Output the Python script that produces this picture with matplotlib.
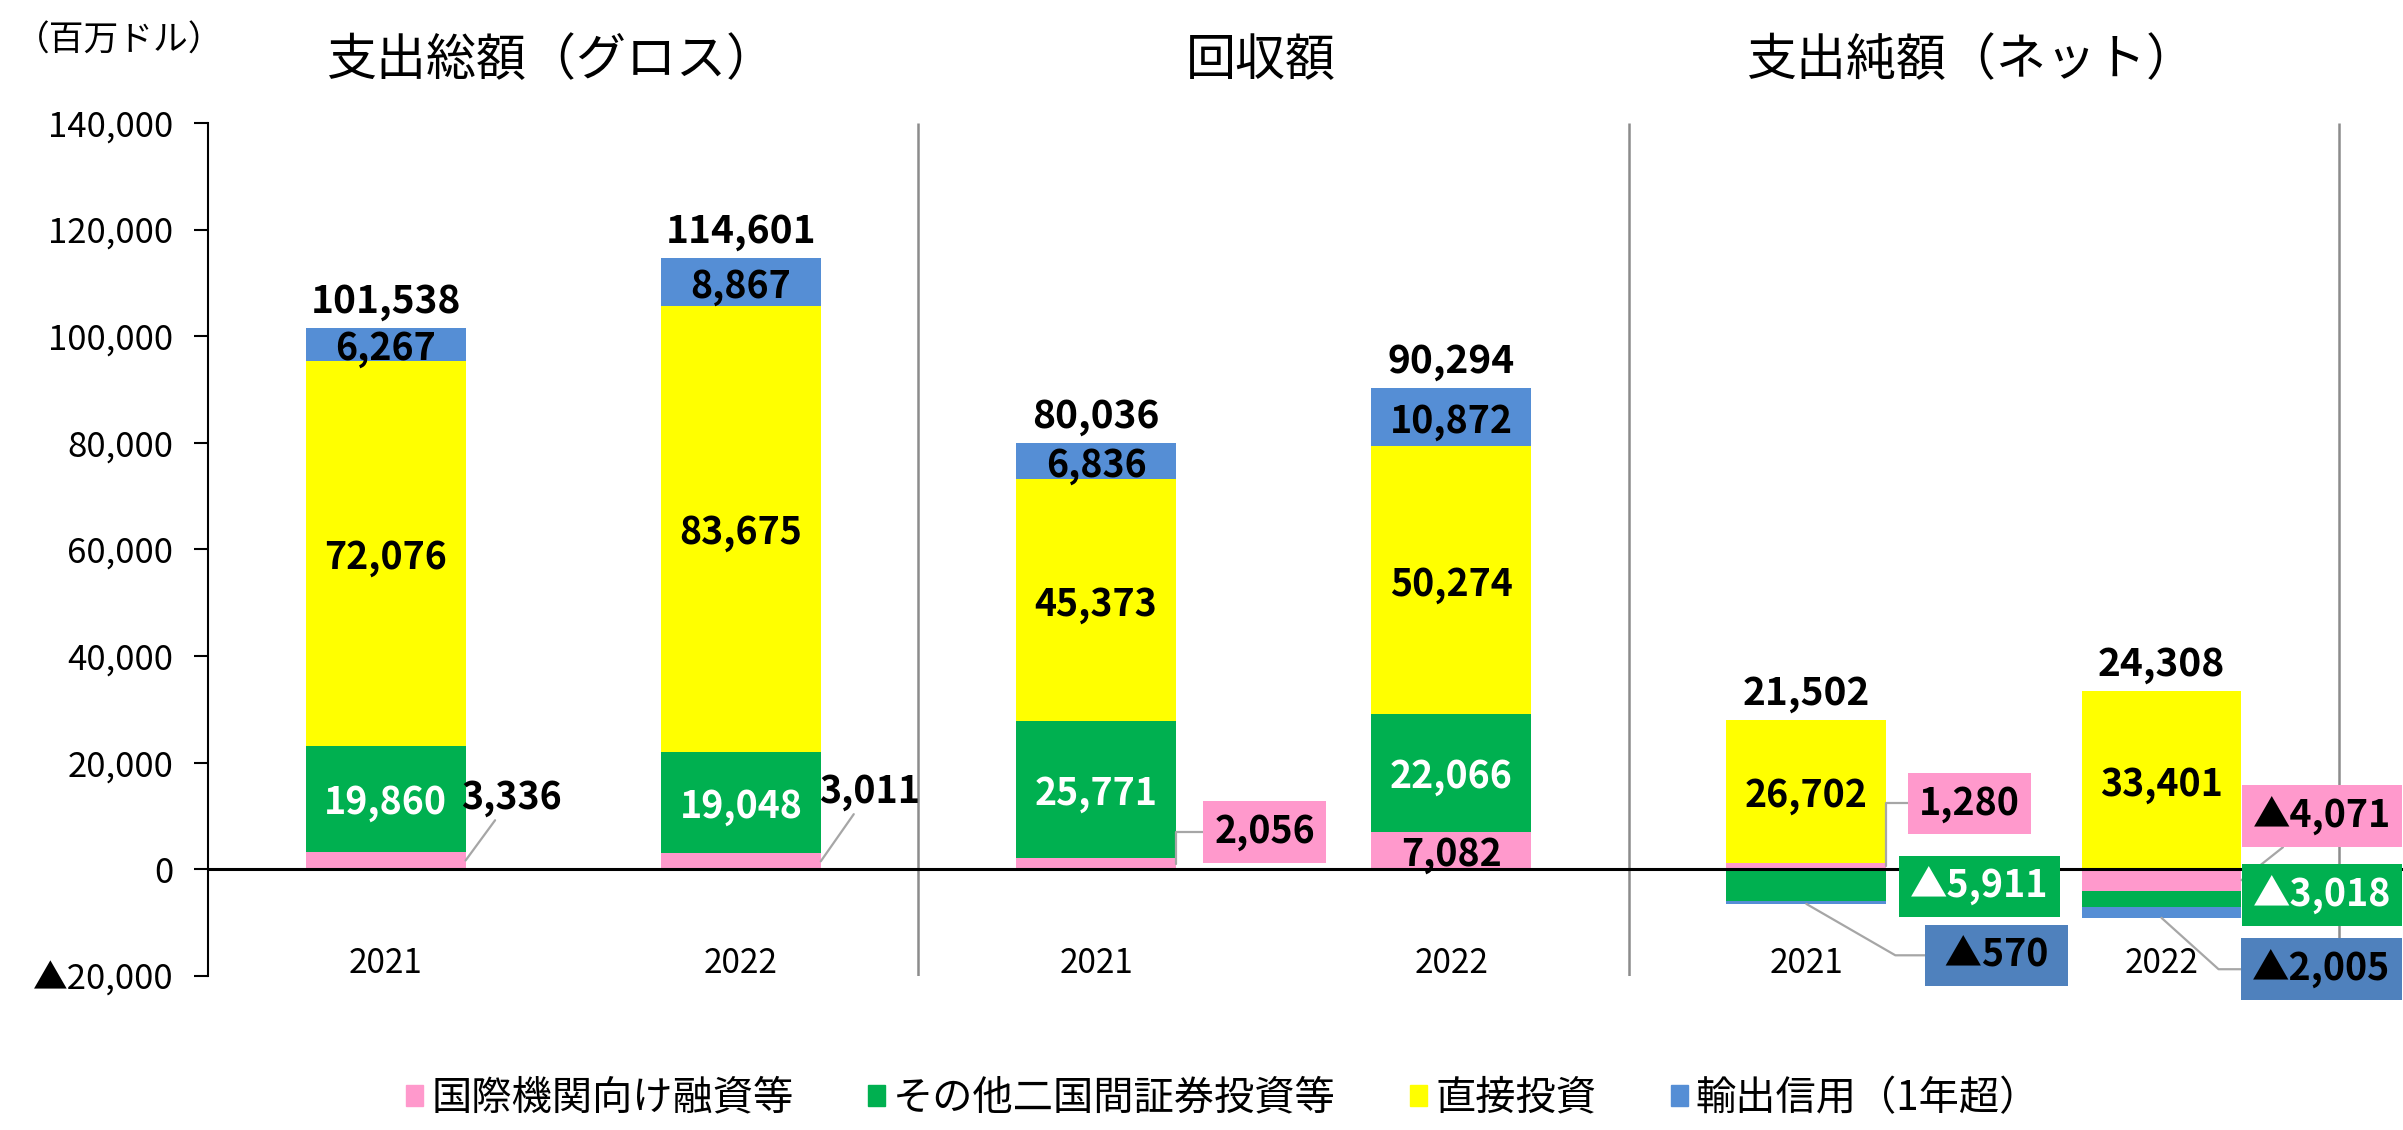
import numpy as np
import matplotlib.pyplot as plt
from matplotlib.patches import Patch

plt.rcParams['font.family'] = ['Noto Sans CJK JP', 'DejaVu Sans']

# values in million USD
group_titles = ['支出総額（グロス）', '回収額', '支出純額（ネット）']
years = ['2021', '2022', '2021', '2022', '2021', '2022']
series_names = ['国際機関向け融資等', 'その他二国間証券投資等', '直接投資', '輸出信用（1年超）']
intl_loans = [3336, 3011, 2056, 7082, 1280, -4071]
bilateral = [19860, 19048, 25771, 22066, -5911, -3018]
direct_inv = [72076, 83675, 45373, 50274, 26702, 33401]
export_credit = [6267, 8867, 6836, 10872, -570, -2005]
totals = [101538, 114601, 80036, 90294, 21502, 24308]

colors = ['#FF99CC', '#00B050', '#FFFF00', '#558ED5']
box_colors = ['#FF99CC', '#00B050', '#FFFF00', '#4F81BD']
text_colors = ['black', 'white', 'black', 'black']
gray = '#A6A6A6'


def fmt(v):
    return ('▲' if v < 0 else '') + f'{abs(int(v)):,}'


fig = plt.figure(figsize=(24.03, 11.3), dpi=100)
ax = fig.add_axes([0.0866, 0.1363, 0.9134, 0.7549])

x = np.arange(len(years))
w = 0.45
series = [intl_loans, bilateral, direct_inv, export_credit]

# stack positives up from 0 and negatives down from 0 (like Excel)
pos = np.zeros(len(x))
neg = np.zeros(len(x))
segs = []
for vals, c in zip(series, colors):
    v = np.array(vals, dtype=float)
    bottom = np.where(v >= 0, pos, neg)
    ax.bar(x, v, w, bottom=bottom, color=c, zorder=2)
    segs.append((bottom, bottom + v))
    pos = np.where(v >= 0, pos + v, pos)
    neg = np.where(v < 0, neg + v, neg)

# labels placed beside the bar: anchor, offset (pt), boxed, leader line
outside = {
    (0, 0): ('right', (33, 45), False, 'arc3,rad=0'),
    (0, 1): ('right', (35, 50), False, 'arc3,rad=0'),
    (0, 2): ('right', (64, 23), True, 'angle,angleA=0,angleB=90,rad=0'),
    (0, 4): ('right', (60, 45), True, 'angle,angleA=0,angleB=90,rad=0'),
    (1, 4): ('right', (67, -1), True, None),
    (3, 4): ('bottom', (137, -37), True, 'angle,angleA=0,angleB=-30,rad=0'),
    (0, 5): ('right', (58, 46), True, 'arc3,rad=0'),
    (1, 5): ('right', (58, 3), True, None),
    (3, 5): ('bottom', (115, -37), True, 'angle,angleA=0,angleB=-42,rad=0'),
}

for s, vals in enumerate(series):
    for i, v in enumerate(vals):
        b, t = segs[s][0][i], segs[s][1][i]
        mid = (b + t) / 2
        if (s, i) in outside:
            anchor, off, boxed, conn = outside[(s, i)]
            if anchor == 'right':
                xy = (x[i] + w / 2, mid)
            else:
                xy = (x[i], min(b, t))
            label = fmt(v)
            if boxed and len(label) < 5:
                label = f' {label} '  # short label gets a wider box
            kw = dict(xy=xy, xytext=off, textcoords='offset points',
                      ha='center', va='center', fontsize=27, fontweight='bold',
                      color=text_colors[s] if boxed else 'black', zorder=4)
            if boxed:
                kw['bbox'] = dict(boxstyle='square,pad=0.3', fc=box_colors[s], ec='none')
            if conn:
                kw['arrowprops'] = dict(arrowstyle='-', color=gray, lw=1.6,
                                        connectionstyle=conn, shrinkA=0, shrinkB=0)
            ax.annotate(label, **kw)
        else:
            ax.text(x[i], mid, fmt(v), ha='center', va='center_baseline',
                    fontsize=27, fontweight='bold', color=text_colors[s], zorder=4)

# totals above the positive stack
for i, tot in enumerate(totals):
    ax.annotate(f'{tot:,}', xy=(x[i], pos[i]), xytext=(0, 11), textcoords='offset points',
                ha='center', va='baseline', fontsize=28, fontweight='bold')

ax.set_ylim(-20000, 140000)
ax.set_xlim(-0.5, len(x) - 0.32)

# year labels sit just above the bottom of the plot
for i, yr in enumerate(years):
    ax.annotate(yr, xy=(x[i], -20000), xytext=(0, 2), textcoords='offset points',
                ha='center', va='baseline', fontsize=24)

ticks = np.arange(-20000, 140001, 20000)
ax.set_yticks(ticks)
ax.set_yticklabels([fmt(t) for t in ticks])
ax.tick_params(axis='y', direction='out', length=10, width=1.5, labelsize=25, pad=15)
ax.set_xticks([])
for side in ['top', 'right', 'bottom']:
    ax.spines[side].set_visible(False)
ax.spines['left'].set_linewidth(1.5)

ax.axhline(0, color='black', lw=2.2, zorder=3)
ax.vlines(np.arange(1.5, len(x), 2), -20000, 140000, color='#8C8C8C', lw=1.8, zorder=1)

for g, title in enumerate(group_titles):
    ax.annotate(title, xy=(2 * g + 0.5, 1.0727), xycoords=('data', 'axes fraction'),
                xytext=(-9, 0), textcoords='offset points',
                ha='center', va='center', fontsize=36)

fig.text(0.006, 0.964, '（百万ドル）', fontsize=25, ha='left', va='center')

handles = [Patch(color=c) for c in colors]
fig.legend(handles, series_names, loc='center', bbox_to_anchor=(0.509, 0.028), ncol=4,
           frameon=False, fontsize=29, handlelength=0.42, handleheight=0.42,
           handletextpad=0.2, columnspacing=1.85)

fig.savefig('out.png', dpi=100)
